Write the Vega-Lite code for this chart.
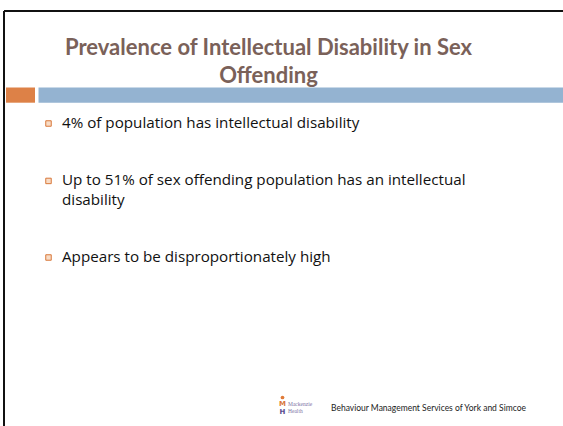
{
  "$schema": "https://vega.github.io/schema/vega-lite/v6.json",
  "width": 559,
  "height": 415,
  "autosize": "none",
  "padding": {"left": 4, "top": 11, "right": 0, "bottom": 0},
  "background": "white",
  "config": {
    "view": {"stroke": "#111111", "strokeWidth": 2, "strokeDash": [559, 974, 415, 0]},
    "axis": {"disable": true},
    "legend": {"disable": true}
  },
  "datasets": {
    "heading": [
      {"line": 1, "text": "Prevalence of Intellectual Disability in Sex"},
      {"line": 2, "text": "Offending"}
    ],
    "strip": [
      {"segment": "accent"},
      {"segment": "rule"}
    ],
    "points": [
      {"line": 0, "text": "4% of population has intellectual disability", "bullet": true},
      {"line": 3, "text": "Up to 51% of sex offending population has an intellectual", "bullet": true},
      {"line": 4, "text": "disability", "bullet": false},
      {"line": 7, "text": "Appears to be disproportionately high", "bullet": true}
    ],
    "logoText": [
      {"line": 1, "text": "Mackenzie"},
      {"line": 2, "text": "Health"}
    ],
    "logoGlyph": [
      {"line": 1, "glyph": "M", "tone": "arms"},
      {"line": 2, "glyph": "H", "tone": "body"}
    ],
    "logoHead": [
      {"part": "head"}
    ],
    "service": [
      {"text": "Behaviour Management Services of York and Simcoe"}
    ]
  },
  "layer": [
    {
      "data": {"name": "strip"},
      "mark": {"type": "bar"},
      "encoding": {
        "x": {"field": "segment", "type": "nominal", "scale": {"type": "point", "domain": ["accent", "rule"], "range": [16.5, 296.75], "padding": 0}, "axis": null},
        "size": {"field": "segment", "type": "ordinal", "scale": {"type": "ordinal", "domain": ["accent", "rule"], "range": [29, 524.5]}, "legend": null},
        "y": {"datum": 1, "type": "quantitative", "stack": null, "scale": {"domain": [0, 1], "range": [91.7, 76.5], "zero": false, "nice": false}, "axis": null},
        "color": {"field": "segment", "type": "nominal", "scale": {"domain": ["accent", "rule"], "range": ["#dd8147", "#94b3d1"]}, "legend": null}
      }
    },
    {
      "data": {"name": "heading"},
      "mark": {"type": "text", "font": "Lato", "fontWeight": "bold", "fontSize": 22, "align": "center", "baseline": "alphabetic", "color": "#7a6159"},
      "encoding": {
        "text": {"field": "text"},
        "x": {"datum": "centre", "type": "nominal", "scale": {"type": "point", "domain": ["centre"], "range": [264.5, 264.5]}, "axis": null},
        "y": {"field": "line", "type": "quantitative", "scale": {"domain": [1, 2], "range": [43.5, 72], "zero": false, "nice": false}, "axis": null}
      }
    },
    {
      "data": {"name": "points"},
      "mark": {"type": "text", "font": "Open Sans", "fontSize": 15.2, "align": "left", "baseline": "alphabetic", "color": "#111111"},
      "encoding": {
        "text": {"field": "text"},
        "x": {"datum": "body", "type": "nominal", "scale": {"type": "point", "domain": ["body"], "range": [58, 58]}, "axis": null},
        "y": {"field": "line", "type": "quantitative", "scale": {"domain": [0, 7], "range": [117, 251], "zero": false, "nice": false}, "axis": null}
      }
    },
    {
      "data": {"name": "points"},
      "transform": [{"filter": "datum.bullet"}],
      "mark": {"type": "point", "shape": "square", "filled": true, "size": 30, "fill": "#f8dcc6", "stroke": "#d8783a", "strokeWidth": 1, "opacity": 1},
      "encoding": {
        "x": {"datum": "marker", "type": "nominal", "scale": {"type": "point", "domain": ["marker"], "range": [44.5, 44.5]}, "axis": null},
        "y": {"field": "line", "type": "quantitative", "scale": {"domain": [0, 7], "range": [112.5, 246.5], "zero": false, "nice": false}, "axis": null}
      }
    },
    {
      "data": {"name": "logoHead"},
      "mark": {"type": "point", "shape": "circle", "filled": true, "size": 14, "color": "#e07b39", "opacity": 1},
      "encoding": {
        "x": {"datum": "logo", "type": "nominal", "scale": {"type": "point", "domain": ["logo"], "range": [278.5, 278.5]}, "axis": null},
        "y": {"datum": "head", "type": "nominal", "scale": {"type": "point", "domain": ["head"], "range": [386.5, 386.5]}, "axis": null}
      }
    },
    {
      "data": {"name": "logoGlyph"},
      "mark": {"type": "text", "font": "DejaVu Sans", "fontWeight": "bold", "fontSize": 7, "align": "center", "baseline": "alphabetic"},
      "encoding": {
        "text": {"field": "glyph"},
        "x": {"datum": "logo", "type": "nominal", "scale": {"type": "point", "domain": ["logo"], "range": [278.5, 278.5]}, "axis": null},
        "y": {"field": "line", "type": "quantitative", "scale": {"domain": [1, 2], "range": [395, 402.5], "zero": false, "nice": false}, "axis": null},
        "color": {"field": "tone", "type": "nominal", "scale": {"domain": ["arms", "body"], "range": ["#d9773c", "#5a4a8e"]}, "legend": null}
      }
    },
    {
      "data": {"name": "logoText"},
      "mark": {"type": "text", "font": "Liberation Serif", "fontSize": 5.5, "align": "left", "baseline": "alphabetic", "color": "#7d74a6"},
      "encoding": {
        "text": {"field": "text"},
        "x": {"datum": "logo", "type": "nominal", "scale": {"type": "point", "domain": ["logo"], "range": [284, 284]}, "axis": null},
        "y": {"field": "line", "type": "quantitative", "scale": {"domain": [1, 2], "range": [395, 401.5], "zero": false, "nice": false}, "axis": null}
      }
    },
    {
      "data": {"name": "service"},
      "mark": {"type": "text", "font": "Lato", "fontSize": 8.5, "align": "left", "baseline": "alphabetic", "color": "#222222"},
      "encoding": {
        "text": {"field": "text"},
        "x": {"datum": "service", "type": "nominal", "scale": {"type": "point", "domain": ["service"], "range": [327, 327]}, "axis": null},
        "y": {"datum": "service", "type": "nominal", "scale": {"type": "point", "domain": ["service"], "range": [400, 400]}, "axis": null}
      }
    }
  ],
  "resolve": {"scale": {"x": "independent", "y": "independent", "size": "independent", "color": "independent"}}
}
